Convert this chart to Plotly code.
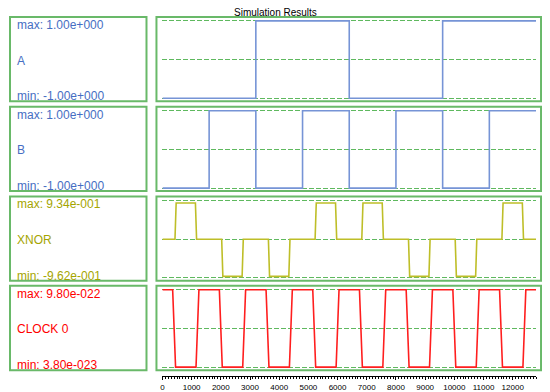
import plotly.graph_objects as go

# page body has an 8px margin, so the figure is sized to fill the rest of the window
OFF = 8
W, H = 550 - OFF, 392 - OFF

# ---------------- data ----------------
signal_names = ["A", "B", "XNOR", "CLOCK 0"]
max_labels = ["1.00e+000", "1.00e+000", "9.34e-001", "9.80e-022"]
min_labels = ["-1.00e+000", "-1.00e+000", "-9.62e-001", "3.80e-023"]

a_time = [0, 3200, 6400, 9600, 12800]
a_vals = [-1, 1, -1, 1, 1]

b_time = [0, 1600, 3200, 4800, 6400, 8000, 9600, 11200, 12800]
b_vals = [-1, 1, -1, 1, -1, 1, -1, 1, 1]

xnor_time = [0, 430, 470, 1130, 1170, 2030, 2070, 2730, 2770, 3630, 3670,
             4330, 4370, 5230, 5270, 5930, 5970, 6830, 6870, 7530, 7570,
             8430, 8470, 9130, 9170, 10030, 10070, 10730, 10770, 11630,
             11670, 12330, 12370, 12800]
xnor_vals = [0, 0, 0.934, 0.934, 0, 0, -0.962, -0.962, 0, 0, -0.962,
             -0.962, 0, 0, 0.934, 0.934, 0, 0, 0.934, 0.934, 0,
             0, -0.962, -0.962, 0, 0, -0.962, -0.962, 0, 0,
             0.934, 0.934, 0, 0]

clk_hi = 9.80e-22
clk_lo = 3.80e-23
clock_time = [0, 350, 450, 1150, 1250, 1950, 2050, 2750, 2850, 3550, 3650,
              4350, 4450, 5150, 5250, 5950, 6050, 6750, 6850, 7550, 7650,
              8350, 8450, 9150, 9250, 9950, 10050, 10750, 10850, 11550,
              11650, 12350, 12450, 12800]
clock_vals = [clk_hi, clk_hi, clk_lo, clk_lo, clk_hi, clk_hi, clk_lo, clk_lo,
              clk_hi, clk_hi, clk_lo, clk_lo, clk_hi, clk_hi, clk_lo, clk_lo,
              clk_hi, clk_hi, clk_lo, clk_lo, clk_hi, clk_hi, clk_lo, clk_lo,
              clk_hi, clk_hi, clk_lo, clk_lo, clk_hi, clk_hi, clk_lo, clk_lo,
              clk_hi, clk_hi]

x_max = 12800
x_tick_step = 1000
x_minor_step = 100

# ---------------- style ----------------
line_colors = ["rgb(118,148,214)", "rgb(118,148,214)", "rgb(190,190,40)", "rgb(255,30,30)"]
text_colors = ["rgb(70,110,195)", "rgb(70,110,195)", "rgb(165,165,0)", "rgb(255,0,0)"]
line_shapes = ["hv", "hv", "linear", "linear"]
box_color = "rgb(105,185,105)"
grid_color = "rgb(95,185,95)"
FONT = "Liberation Sans, Arial, sans-serif"

tops = [17, 107.5, 198, 288]
box_h = 85


def px(x):
    return (x - OFF) / W


def py(y):
    return 1 - (y - OFF) / H


series = [
    (a_time, a_vals, -1, 1),
    (b_time, b_vals, -1, 1),
    (xnor_time, xnor_vals, -1, 1),
    (clock_time, clock_vals, clk_lo, clk_hi),
]

fig = go.Figure()
shapes = []
annotations = []
layout = {}

for i, (t, v, lo, hi) in enumerate(series):
    top = tops[i]
    idx = "" if i == 0 else str(i + 1)
    fig.add_trace(go.Scatter(
        x=t, y=v, mode="lines",
        line=dict(color=line_colors[i], width=1.6, shape=line_shapes[i]),
        xaxis="x" + idx, yaxis="y" + idx, showlegend=False, hoverinfo="skip",
    ))
    pad = (hi - lo) * 2 / 78
    layout["yaxis" + idx] = dict(
        domain=[py(top + 84), py(top + 2)],
        range=[lo - pad, hi + pad],
        anchor="x" + idx,
        tickvals=[lo, (lo + hi) / 2, hi],
        showticklabels=False, ticks="",
        showgrid=True, gridcolor=grid_color, gridwidth=1, griddash="5px,2px",
        zeroline=False, showline=False, fixedrange=True,
    )
    xa = dict(
        domain=[px(161), px(536)], range=[0, x_max],
        showgrid=False, zeroline=False, fixedrange=True,
    )
    if i < 3:
        xa.update(anchor="y" + idx, showticklabels=False, ticks="", showline=False)
    else:
        xa.update(
            anchor="free", position=py(379),
            showline=True, linecolor="black", linewidth=1,
            ticks="outside", ticklen=3, tickwidth=1, tickcolor="black",
            dtick=x_tick_step, tick0=0, tickformat="d",
            tickfont=dict(family=FONT, size=8, color="black"),
            minor=dict(dtick=x_minor_step, ticks="outside", ticklen=2,
                       tickcolor="black", tickwidth=1, showgrid=False),
        )
    layout["xaxis" + idx] = xa

    # boxes
    for x0, x1 in [(8, 145), (155, 541)]:
        shapes.append(dict(type="rect", xref="paper", yref="paper",
                           x0=px(x0), x1=px(x1), y0=py(top + box_h), y1=py(top),
                           line=dict(color=box_color, width=2), layer="above"))
    # labels
    for dy, txt in [(8, "max: " + max_labels[i]), (44, signal_names[i]),
                    (80, "min: " + min_labels[i])]:
        annotations.append(dict(
            xref="paper", yref="paper", x=px(13), y=py(top + dy),
            xanchor="left", yanchor="middle", text=txt, showarrow=False,
            font=dict(family=FONT, size=12, color=text_colors[i]),
        ))

annotations.append(dict(
    xref="paper", yref="paper", x=px(274), y=py(6),
    xanchor="center", yanchor="top", text="Simulation Results", borderpad=0,
    showarrow=False, font=dict(family=FONT, size=10, color="black"),
))

fig.update_layout(
    width=W, height=H,
    margin=dict(l=0, r=0, t=0, b=0),
    paper_bgcolor="white", plot_bgcolor="white",
    shapes=shapes, annotations=annotations,
    **layout,
)

fig.write_html("out.html")
